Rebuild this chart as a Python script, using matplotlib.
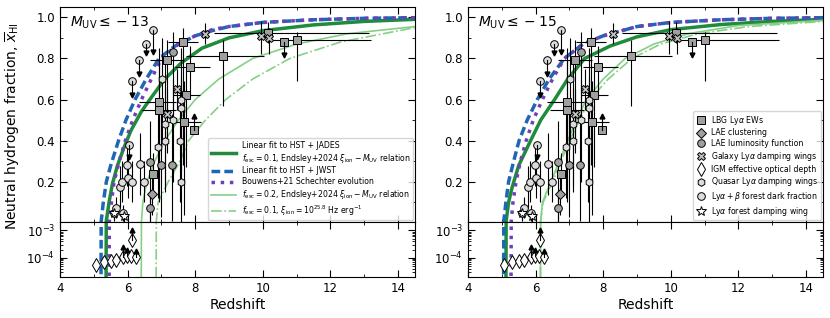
import numpy as np
import matplotlib.pyplot as plt
from matplotlib.lines import Line2D
from matplotlib.ticker import MultipleLocator, LogLocator, NullFormatter

plt.rcParams['font.family'] = ['DejaVu Sans']
plt.rcParams['mathtext.fontset'] = 'dejavusans'

# ---- model curves (z, x_HI) ----
# M_UV <= -13 panel
g13_z = [5.36, 5.37, 5.45, 5.55, 5.7, 5.9, 6.1, 6.4, 6.7, 7.1, 7.6, 8.2, 9.0, 10.0, 11.5, 13.0, 14.5]
g13_x = [1e-6, 0.01, 0.1, 0.19, 0.28, 0.37, 0.45, 0.54, 0.61, 0.7, 0.78, 0.85, 0.9, 0.935, 0.963, 0.98, 0.99]
b13_z = [5.21, 5.22, 5.28, 5.37, 5.5, 5.73, 5.95, 6.22, 6.55, 6.93, 7.4, 8.0, 8.5, 9.0, 10.0, 11.5, 13.0, 14.5]
b13_x = [1e-6, 0.01, 0.1, 0.2, 0.28, 0.4, 0.5, 0.6, 0.7, 0.8, 0.86, 0.91, 0.935, 0.955, 0.975, 0.988, 0.995, 0.998]
p13_z = [5.45, 5.46, 5.52, 5.6, 5.75, 5.93, 6.15, 6.41, 6.7, 7.0, 7.5, 8.0, 8.5, 9.0, 10.0, 11.5, 13.0, 14.5]
p13_x = [1e-6, 0.01, 0.1, 0.2, 0.3, 0.4, 0.5, 0.6, 0.7, 0.8, 0.87, 0.91, 0.94, 0.955, 0.975, 0.988, 0.995, 0.998]
l13_z = [6.40, 6.41, 6.45, 6.57, 6.8, 7.1, 7.5, 8.0, 8.7, 9.7, 11.0, 12.5, 14.5]
l13_x = [1e-6, 0.01, 0.1, 0.2, 0.3, 0.4, 0.5, 0.6, 0.7, 0.8, 0.87, 0.92, 0.955]
d13_z = [6.84, 6.85, 6.9, 7.2, 7.55, 7.8, 8.3, 8.9, 9.7, 10.8, 12.3, 14.5]
d13_x = [1e-6, 0.01, 0.1, 0.2, 0.3, 0.4, 0.5, 0.6, 0.7, 0.8, 0.88, 0.95]
# M_UV <= -15 panel
g15_z = [5.12, 5.13, 5.2, 5.3, 5.5, 5.85, 6.15, 6.56, 6.95, 7.45, 8.2, 9.0, 10.0, 11.5, 13.0, 14.5]
g15_x = [1e-6, 0.01, 0.1, 0.17, 0.28, 0.4, 0.5, 0.6, 0.7, 0.8, 0.86, 0.905, 0.94, 0.965, 0.98, 0.99]
b15_z = [5.05, 5.06, 5.12, 5.2, 5.35, 5.51, 5.75, 6.05, 6.4, 6.85, 7.4, 8.0, 9.0, 10.0, 11.5, 13.0, 14.5]
b15_x = [1e-6, 0.01, 0.1, 0.2, 0.3, 0.4, 0.5, 0.6, 0.7, 0.8, 0.87, 0.91, 0.955, 0.975, 0.988, 0.995, 0.998]
p15_z = [5.27, 5.28, 5.33, 5.42, 5.55, 5.72, 5.93, 6.2, 6.5, 6.85, 7.4, 8.0, 9.0, 10.0, 11.5, 13.0, 14.5]
p15_x = [1e-6, 0.01, 0.1, 0.2, 0.3, 0.4, 0.5, 0.6, 0.7, 0.8, 0.87, 0.91, 0.955, 0.975, 0.988, 0.995, 0.998]
l15_z = [6.14, 6.15, 6.2, 6.45, 6.7, 6.95, 7.2, 7.5, 8.0, 8.65, 9.5, 10.5, 12.0, 14.5]
l15_x = [1e-6, 0.01, 0.1, 0.2, 0.3, 0.4, 0.5, 0.6, 0.7, 0.8, 0.87, 0.92, 0.96, 0.985]
d15_z = [6.14, 6.15, 6.22, 6.5, 6.75, 7.0, 7.3, 7.6, 8.15, 8.85, 9.7, 10.8, 12.3, 14.5]
d15_x = [1e-6, 0.01, 0.1, 0.2, 0.3, 0.4, 0.5, 0.6, 0.7, 0.8, 0.87, 0.92, 0.955, 0.98]

# ---- observational constraints (same in both panels) ----
# LBG Lya EWs
lbg_z   = [7.64, 7.16, 7.84, 8.82, 11.01, 10.15, 7.74, 6.94, 6.94, 7.66, 6.74]
lbg_x   = [0.88, 0.79, 0.76, 0.81, 0.89, 0.925, 0.62, 0.59, 0.55, 0.49, 0.24]
lbg_zlo = [0.45, 0.5, 0.45, 1.1, 0.8, 1.6, 0.4, 0.6, 0.5, 0.5, 0.0]
lbg_zhi = [0.45, 0.5, 0.6, 1.2, 2.2, 3.0, 0.4, 0.5, 0.5, 0.5, 0.0]
lbg_xlo = [0.6, 0.45, 0.15, 0.24, 0.2, 0.05, 0.35, 0.25, 0.45, 0.45, 0.1]
lbg_xhi = [0.07, 0.1, 0.1, 0.08, 0.04, 0.05, 0.12, 0.2, 0.3, 0.2, 0.1]
lbg_lim_z = [10.64, 7.96]
lbg_lim_x = [0.88, 0.45]
lbg_lim_end = [0.815, 0.52]
# LAE clustering
laec_z = [6.72]
laec_x = [0.14]
laec_lo = [0.1]
laec_hi = [0.1]
# LAE luminosity function
laelf_z  = [6.65, 6.99, 7.31, 6.67, 7.33]
laelf_x  = [0.297, 0.28, 0.28, 0.075, 0.83]
laelf_lo = [0.29, 0.25, 0.27, 0.07, 0.3]
laelf_hi = [0.2, 0.25, 0.25, 0.08, 0.1]
# galaxy Lya damping wings
gdw_z  = [8.3, 9.94, 10.19, 7.47, 7.16]
gdw_x  = [0.92, 0.91, 0.90, 0.65, 0.53]
gdw_lo = [0.05, 0.09, 0.08, 0.1, 0.12]
gdw_hi = [0.05, 0.07, 0.05, 0.1, 0.12]
# IGM effective optical depth (log panel)
igm_z = [5.06, 5.31, 5.51, 5.65, 5.85, 5.97, 6.10, 6.24, 6.14]
igm_x = [5.6e-5, 6.8e-5, 7.4e-5, 8.5e-5, 1.05e-4, 1.2e-4, 1.17e-4, 1.05e-4, 4.4e-4]
igm_lim_z = [5.85, 5.97, 6.24, 6.14]
igm_lim_x = [1.05e-4, 1.2e-4, 1.05e-4, 4.4e-4]
igm_lim_end = [2.5e-4, 1.95e-4, 1.7e-4, 1.0e-3]
# quasar Lya damping wings
qdw_z  = [7.02, 7.58, 7.57, 7.33, 7.12, 7.12, 7.54, 7.59, 6.9]
qdw_x  = [0.70, 0.60, 0.56, 0.50, 0.48, 0.40, 0.40, 0.20, 0.37]
qdw_lo = [0.3, 0.25, 0.3, 0.3, 0.3, 0.25, 0.3, 0.2, 0.25]
qdw_hi = [0.2, 0.25, 0.15, 0.2, 0.3, 0.25, 0.25, 0.2, 0.2]
# Lya + beta forest dark fraction
dark_z  = [5.61, 5.85, 5.65, 5.78, 5.82, 6.02, 6.12, 5.97, 6.37, 6.47]
dark_x  = [0.05, 0.05, 0.075, 0.175, 0.2, 0.22, 0.2, 0.28, 0.286, 0.2]
dark_lo = [0.04, 0.04, 0.05, 0.1, 0.1, 0.1, 0.1, 0.1, 0.15, 0.1]
dark_hi = [0.04, 0.04, 0.05, 0.1, 0.1, 0.1, 0.1, 0.1, 0.15, 0.1]
dark_lim_z = [6.04, 6.14, 6.34, 6.54, 6.74]
dark_lim_x = [0.38, 0.69, 0.79, 0.872, 0.94]
dark_lim_end = [0.32, 0.62, 0.725, 0.826, 0.83]
# Lya forest damping wing
fdw_z = [5.6, 5.9]
fdw_x = [0.05, 0.035]
fdw_err = [0.03, 0.03]

c_green = '#1e8c3a'
c_blue = '#1f66b5'
c_purple = '#6f3fb5'
c_light = '#86cf86'

fig = plt.figure(figsize=(8.3, 3.18), dpi=100)
lefts = [60 / 830, 468 / 830]
w = 355 / 830
top_b, top_h = 1 - 222 / 318, 215 / 318
bot_b, bot_h = 1 - 277 / 318, 55 / 318

curves = [
    [(g13_z, g13_x), (b13_z, b13_x), (p13_z, p13_x), (l13_z, l13_x), (d13_z, d13_x)],
    [(g15_z, g15_x), (b15_z, b15_x), (p15_z, p15_x), (l15_z, l15_x), (d15_z, d15_x)],
]
styles = [
    dict(color=c_green, lw=2.5, ls='-'),
    dict(color=c_blue, lw=2.5, ls=(0, (2.5, 1.2))),
    dict(color=c_purple, lw=2.5, ls=':'),
    dict(color=c_light, lw=1.2, ls='-'),
    dict(color=c_light, lw=1.2, ls='-.'),
]
labels = [
    'Linear fit to HST + JADES\n$f_{\\rm esc}=0.1$, Endsley+2024 $\\xi_{\\rm ion}-M_{\\rm UV}$ relation',
    'Linear fit to HST + JWST',
    'Bouwens+21 Schechter evolution',
    '$f_{\\rm esc}=0.2$, Endsley+2024 $\\xi_{\\rm ion}-M_{\\rm UV}$ relation',
    '$f_{\\rm esc}=0.1$, $\\xi_{\\rm ion}=10^{25.8}$ Hz erg$^{-1}$',
]
titles = ['$M_{\\rm UV} \\leq -13$', '$M_{\\rm UV} \\leq -15$']

MS = 5.5
eb = dict(mec='k', mew=0.7, ecolor='k', elinewidth=0.8, capsize=0, zorder=3, ls='none')


def limits(ax, z, x0, x1):
    for zi, a, b in zip(z, x0, x1):
        ax.plot([zi, zi], [a, b], color='k', lw=0.8, zorder=3)
        ax.plot(zi, b, marker='v' if b < a else '^', color='k', ms=3.5, zorder=3, ls='none')


for i in range(2):
    ax = fig.add_axes([lefts[i], top_b, w, top_h])
    axl = fig.add_axes([lefts[i], bot_b, w, bot_h], sharex=ax)

    handles = []
    for (cz, cx), st, lab in zip(curves[i], styles, labels):
        h, = ax.plot(cz, cx, zorder=2, label=lab, **st)
        axl.plot(cz, cx, zorder=2, **st)
        handles.append(h)

    # data
    ax.errorbar(lbg_z, lbg_x, xerr=[lbg_zlo, lbg_zhi], yerr=[lbg_xlo, lbg_xhi],
                marker='s', mfc='#a0a0a0', ms=MS, **eb)
    ax.plot(lbg_lim_z, lbg_lim_x, marker='s', mfc='#a0a0a0', mec='k', mew=0.7, ms=MS, ls='none', zorder=3)
    limits(ax, lbg_lim_z, lbg_lim_x, lbg_lim_end)
    ax.errorbar(laec_z, laec_x, yerr=[laec_lo, laec_hi], marker='D', mfc='#a0a0a0', ms=MS - 0.5, **eb)
    ax.errorbar(laelf_z, laelf_x, yerr=[laelf_lo, laelf_hi], marker='o', mfc='#a0a0a0', ms=MS, **eb)
    ax.errorbar(gdw_z, gdw_x, yerr=[gdw_lo, gdw_hi], marker='X', mfc='#c0c0c0', ms=MS + 0.5, **eb)
    ax.errorbar(qdw_z, qdw_x, yerr=[qdw_lo, qdw_hi], marker='h', mfc='#dcdcdc', ms=MS, **eb)
    ax.errorbar(dark_z, dark_x, yerr=[dark_lo, dark_hi], marker='o', mfc='#dcdcdc', ms=MS, **eb)
    ax.plot(dark_lim_z, dark_lim_x, marker='o', mfc='#dcdcdc', mec='k', mew=0.7, ms=MS, ls='none', zorder=3)
    limits(ax, dark_lim_z, dark_lim_x, dark_lim_end)
    ax.errorbar(fdw_z, fdw_x, yerr=fdw_err, marker='*', mfc='w', ms=MS + 1.5, **eb)

    axl.plot(igm_z, igm_x, marker='d', mfc='w', mec='k', mew=0.7, ms=7, ls='none', zorder=3)
    limits(axl, igm_lim_z, igm_lim_x, igm_lim_end)

    ax.set_xlim(4, 14.5)
    ax.set_ylim(0.005, 1.05)
    axl.set_yscale('log')
    axl.set_ylim(2e-5, 2e-3)
    ax.xaxis.set_major_locator(MultipleLocator(2))
    ax.xaxis.set_minor_locator(MultipleLocator(1))
    ax.yaxis.set_major_locator(MultipleLocator(0.2))
    ax.yaxis.set_minor_locator(MultipleLocator(0.1))
    axl.yaxis.set_major_locator(LogLocator(base=10, numticks=10))
    axl.yaxis.set_minor_locator(LogLocator(base=10, subs=np.arange(2, 10), numticks=10))
    axl.yaxis.set_minor_formatter(NullFormatter())
    for a in (ax, axl):
        a.tick_params(which='both', direction='in', top=True, right=True, labelsize=8.5)
        a.tick_params(which='major', length=5, width=0.8)
        a.tick_params(which='minor', length=2.5, width=0.6)
    ax.tick_params(labelbottom=False)
    axl.set_xlabel('Redshift', fontsize=10, labelpad=2)
    ax.text(0.028, 0.926, titles[i], transform=ax.transAxes, fontsize=10, va='center')

    if i == 0:
        ax.legend(handles=handles, loc='lower right', fontsize=5.6, handlelength=3.2,
                  borderaxespad=0.2, labelspacing=0.25, borderpad=0.35)
    else:
        mk = [('s', '#a0a0a0', MS), ('D', '#a0a0a0', MS - 0.5), ('o', '#a0a0a0', MS), ('X', '#c0c0c0', MS + 0.5),
              ('d', 'w', 7), ('h', '#dcdcdc', MS), ('o', '#dcdcdc', MS), ('*', 'w', MS + 1.5)]
        names = ['LBG Ly$\\alpha$ EWs', 'LAE clustering', 'LAE luminosity function',
                 'Galaxy Ly$\\alpha$ damping wings', 'IGM effective optical depth',
                 'Quasar Ly$\\alpha$ damping wings', 'Ly$\\alpha+\\beta$ forest dark fraction',
                 'Ly$\\alpha$ forest damping wing']
        mh = [Line2D([], [], marker=m, mfc=c, mec='k', mew=0.7, ms=s, ls='none') for m, c, s in mk]
        ax.legend(mh, names, loc='lower right', fontsize=5.6, handlelength=1.2,
                  borderaxespad=0.2, labelspacing=0.22, borderpad=0.35)

fig.text(0.016, 0.604, 'Neutral hydrogen fraction, $\\overline{x}_{\\rm HI}$',
         rotation=90, va='center', ha='center', fontsize=10)

fig.savefig('out.png', dpi=100)
